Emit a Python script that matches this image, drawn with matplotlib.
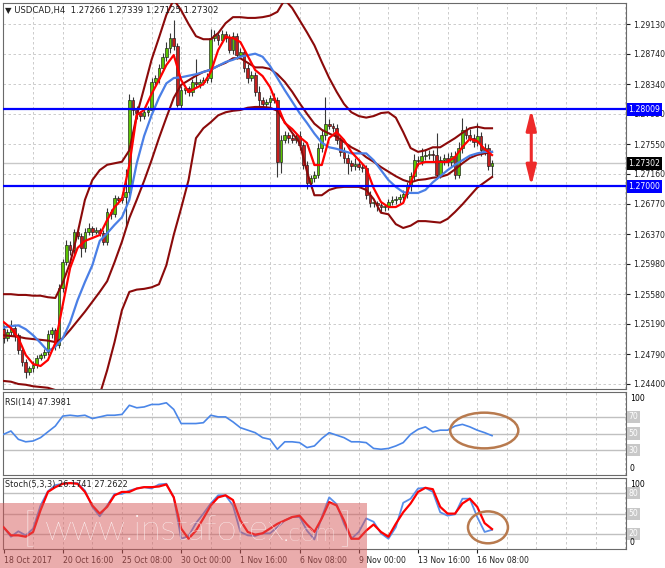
import numpy as np
import matplotlib.pyplot as plt
from matplotlib.patches import Rectangle, Ellipse
import matplotlib.transforms as mtransforms

# USDCAD H4 candles, 18 Oct - 17 Nov 2017 (closes)
first_open = 1.2512
closes = [
    1.2500, 1.2508, 1.2514, 1.2504, 1.2485, 1.2469, 1.2456, 1.2461, 1.2465, 1.2474,
    1.2478, 1.2482, 1.2506, 1.2511, 1.2491, 1.2566, 1.2600, 1.2623, 1.2616, 1.2640,
    1.2634, 1.2619, 1.2640, 1.2645, 1.2640, 1.2642, 1.2638, 1.2627, 1.2666, 1.2663,
    1.2684, 1.2682, 1.2686, 1.2692, 1.2813, 1.2800, 1.2796, 1.2792, 1.2797, 1.2800,
    1.2837, 1.2842, 1.2855, 1.2870, 1.2881, 1.2895, 1.2884, 1.2807, 1.2826, 1.2829,
    1.2824, 1.2837, 1.2834, 1.2837, 1.2839, 1.2842, 1.2895, 1.2899, 1.2892, 1.2900,
    1.2895, 1.2879, 1.2897, 1.2872, 1.2876, 1.2855, 1.2842, 1.2846, 1.2824, 1.2813,
    1.2808, 1.2810, 1.2816, 1.2813, 1.2732, 1.2761, 1.2767, 1.2763, 1.2761, 1.2766,
    1.2754, 1.2728, 1.2704, 1.2711, 1.2715, 1.2750, 1.2767, 1.2782, 1.2779, 1.2776,
    1.2761, 1.2745, 1.2737, 1.2730, 1.2726, 1.2729, 1.2725, 1.2724, 1.2688, 1.2678,
    1.2678, 1.2675, 1.2673, 1.2674, 1.2679, 1.2682, 1.2683, 1.2686, 1.2690, 1.2700,
    1.2713, 1.2734, 1.2733, 1.2740, 1.2741, 1.2742, 1.2741, 1.2715, 1.2734, 1.2737,
    1.2732, 1.2740, 1.2715, 1.2750, 1.2774, 1.2767, 1.2763, 1.2758, 1.2766, 1.2747,
    1.2750, 1.27266, 1.27302,
]
# wick lengths in pips above / below the candle body
upper_wick = [
    5, 4, 10, 4, 3, 3, 4, 3, 5, 4,
    3, 4, 5, 4, 3, 5, 4, 6, 5, 4,
    6, 4, 5, 6, 3, 4, 3, 4, 5, 4,
    4, 3, 4, 30, 8, 4, 5, 3, 4, 5,
    5, 4, 6, 5, 8, 6, 23, 4, 5, 4,
    3, 4, 30, 4, 5, 6, 12, 6, 4, 5,
    4, 5, 6, 4, 5, 4, 6, 5, 4, 8,
    4, 5, 4, 6, 4, 6, 5, 4, 5, 4,
    6, 4, 5, 4, 5, 6, 8, 35, 6, 4,
    5, 4, 6, 5, 4, 8, 6, 4, 4, 5,
    4, 3, 4, 3, 4, 5, 4, 3, 5, 6,
    5, 8, 6, 10, 8, 6, 5, 29, 6, 5,
    7, 5, 6, 8, 16, 5, 8, 6, 17, 5,
    6, 5, 4,
]
lower_wick = [
    6, 4, 5, 8, 5, 6, 8, 4, 5, 4,
    3, 4, 4, 5, 6, 4, 5, 4, 6, 5,
    4, 12, 5, 4, 5, 3, 4, 5, 4, 6,
    4, 5, 4, 40, 5, 6, 8, 6, 4, 5,
    4, 5, 6, 4, 5, 6, 5, 3, 6, 5,
    6, 5, 4, 5, 4, 3, 5, 4, 6, 4,
    5, 4, 6, 5, 4, 5, 6, 4, 5, 8,
    5, 4, 6, 4, 20, 15, 5, 6, 4, 5,
    6, 5, 8, 6, 5, 4, 5, 6, 4, 5,
    6, 5, 7, 14, 6, 5, 4, 6, 5, 6,
    5, 8, 7, 6, 5, 4, 6, 5, 4, 5,
    6, 5, 7, 5, 6, 5, 8, 6, 5, 6,
    5, 7, 6, 5, 6, 5, 4, 6, 5, 7,
    6, 5, 14,
]

# indicator lines, read every 2nd bar
bb_upper = [1.2558, 1.2558, 1.2557, 1.2557, 1.2556, 1.2556, 1.2554, 1.2553, 1.2573, 1.2599,
            1.2638, 1.2682, 1.2708, 1.2721, 1.2728, 1.2730, 1.2732, 1.2747, 1.2793, 1.2829,
            1.2866, 1.2895, 1.2925, 1.2945, 1.2931, 1.2913, 1.2897, 1.2893, 1.2893, 1.2901,
            1.2914, 1.2922, 1.2922, 1.2921, 1.2921, 1.2922, 1.2924, 1.2929, 1.2945, 1.2934,
            1.2918, 1.2902, 1.2885, 1.2863, 1.2842, 1.2824, 1.2808, 1.2797, 1.2792, 1.2790,
            1.2792, 1.2796, 1.2797, 1.2790, 1.2771, 1.2750, 1.2745, 1.2747, 1.2751, 1.2751,
            1.2757, 1.2763, 1.2770, 1.2776, 1.2778, 1.2776, 1.2776]
bb_middle = [1.2504, 1.2503, 1.2502, 1.2500, 1.2499, 1.2498, 1.2497, 1.2495, 1.2500, 1.2511,
             1.2523, 1.2535, 1.2548, 1.2561, 1.2575, 1.2600, 1.2627, 1.2658, 1.2682, 1.2707,
             1.2734, 1.2763, 1.2790, 1.2816, 1.2833, 1.2839, 1.2845, 1.2850, 1.2853, 1.2858,
             1.2862, 1.2868, 1.2868, 1.2862, 1.2856, 1.2856, 1.2854, 1.2847, 1.2837, 1.2824,
             1.2809, 1.2795, 1.2782, 1.2774, 1.2769, 1.2765, 1.2758, 1.2751, 1.2746, 1.2738,
             1.2732, 1.2725, 1.2719, 1.2713, 1.2708, 1.2705, 1.2708, 1.2709, 1.2711, 1.2712,
             1.2715, 1.2722, 1.2730, 1.2737, 1.2741, 1.2743, 1.2745]
bb_lower = [1.2444, 1.2443, 1.2440, 1.2439, 1.2437, 1.2436, 1.2435, 1.2432, 1.2422, 1.2409,
            1.2399, 1.2404, 1.2413, 1.2426, 1.2458, 1.2495, 1.2537, 1.2561, 1.2564, 1.2565,
            1.2567, 1.2571, 1.2596, 1.2636, 1.2671, 1.2708, 1.2763, 1.2776, 1.2784, 1.2793,
            1.2797, 1.2799, 1.2800, 1.2803, 1.2804, 1.2804, 1.2803, 1.2799, 1.2784, 1.2770,
            1.2757, 1.2719, 1.2688, 1.2688, 1.2695, 1.2698, 1.2699, 1.2699, 1.2699, 1.2695,
            1.2683, 1.2665, 1.2663, 1.2650, 1.2645, 1.2648, 1.2654, 1.2654, 1.2653, 1.2652,
            1.2657, 1.2666, 1.2676, 1.2687, 1.2698, 1.2705, 1.2712]
ma_slow = [1.2514, 1.2516, 1.2517, 1.2512, 1.2504, 1.2494, 1.2483, 1.2489, 1.2500, 1.2521,
           1.2550, 1.2574, 1.2596, 1.2628, 1.2638, 1.2649, 1.2659, 1.2682, 1.2730, 1.2766,
           1.2793, 1.2816, 1.2835, 1.2842, 1.2843, 1.2845, 1.2847, 1.2850, 1.2853, 1.2858,
           1.2863, 1.2866, 1.2870, 1.2872, 1.2874, 1.2870, 1.2858, 1.2842, 1.2826, 1.2811,
           1.2796, 1.2783, 1.2769, 1.2757, 1.2751, 1.2749, 1.2746, 1.2743, 1.2743, 1.2743,
           1.2734, 1.2721, 1.2708, 1.2699, 1.2692, 1.2691, 1.2691, 1.2695, 1.2705, 1.2713,
           1.2721, 1.2728, 1.2734, 1.2740, 1.2743, 1.2745, 1.2745]
ma_fast = [1.25214, 1.25135, 1.25004, 1.24781, 1.24662, 1.24636, 1.24715, 1.24938,
           1.25438, 1.25924, 1.26187, 1.26280, 1.26318, 1.26358, 1.26554, 1.26725,
           1.26830, 1.27277, 1.27934, 1.28000, 1.28210, 1.28394, 1.28591, 1.28722,
           1.28394, 1.28236, 1.28289, 1.28341, 1.28499, 1.28788, 1.28959, 1.28946,
           1.28893, 1.28709, 1.28525, 1.28446, 1.28302, 1.28065, 1.27829, 1.27750,
           1.27645, 1.27566, 1.27277, 1.27277, 1.27632, 1.27711, 1.27606, 1.27448,
           1.27343, 1.27238, 1.26975, 1.26791, 1.26725, 1.26725, 1.26778, 1.27041,
           1.27290, 1.27317, 1.27317, 1.27317, 1.27317, 1.27382, 1.27514, 1.27620,
           1.27593, 1.27487, 1.27408]
rsi = [49, 53, 43, 40, 41, 45, 52, 59, 71, 72, 71, 72, 68, 70, 72, 72, 73, 84, 81, 82,
       85, 85, 87, 79, 62, 62, 62, 63, 72, 70, 70, 64, 57, 54, 51, 45, 43, 31, 40, 40,
       39, 33, 35, 44, 51, 48, 45, 40, 40, 39, 32, 31, 32, 35, 39, 49, 55, 58, 52, 54,
       54, 59, 61, 58, 54, 51, 47.3981]
stoch_k = [30, 16, 24, 18, 28, 62, 83, 92, 94, 95, 95, 84, 60, 46, 62, 79, 79, 84, 87, 89,
           87, 93, 94, 74, 13, 17, 36, 50, 65, 77, 77, 62, 23, 18, 17, 21, 21, 30, 40, 45,
           45, 25, 12, 45, 74, 64, 35, 13, 23, 43, 38, 21, 13, 30, 66, 72, 87, 88, 82, 52,
           47, 49, 72, 72, 45, 23, 26.1741]
stoch_d = [30, 18, 18, 16, 23, 55, 82, 89, 94, 95, 94, 82, 62, 50, 60, 77, 82, 82, 87, 89,
           89, 90, 93, 74, 28, 13, 25, 43, 62, 74, 77, 70, 40, 23, 19, 21, 28, 35, 40, 45,
           47, 34, 23, 43, 67, 62, 40, 13, 13, 25, 34, 23, 16, 35, 52, 65, 82, 88, 86, 60,
           50, 50, 65, 72, 60, 36, 27.2622]

price_ticks = [1.29130, 1.28740, 1.28340, 1.27950, 1.27550, 1.27160, 1.26770,
               1.26370, 1.25980, 1.25580, 1.25190, 1.24790, 1.24400]
resistance = 1.28009
support = 1.27000
last_price = 1.27302
date_labels = ['18 Oct 2017', '20 Oct 16:00', '25 Oct 08:00', '30 Oct 00:00',
               '1 Nov 16:00', '6 Nov 08:00', '9 Nov 00:00', '13 Nov 16:00', '16 Nov 08:00']

W, H = 665, 568
FS = 5.6
GRID = '#c4c4c4'
SPINE = '#6a6a6a'


def px_axes(x0, y0, x1, y1, **kw):
    return fig.add_axes([x0 / W, 1 - y1 / H, (x1 - x0) / W, (y1 - y0) / H], **kw)


fig = plt.figure(figsize=(W / 100, H / 100), dpi=100)
fig.patch.set_facecolor('white')
ax = px_axes(3, 3, 626, 389)
ax_rsi = px_axes(3, 392, 626, 475, sharex=ax)
ax_st = px_axes(3, 478, 626, 549, sharex=ax)

n = len(closes)
x = np.arange(n)
x2 = np.arange(0, n, 2)

for a in (ax, ax_rsi, ax_st):
    for s in a.spines.values():
        s.set_color(SPINE)
        s.set_linewidth(0.8)
    for g in range(8, 169, 8):
        a.axvline(g, color=GRID, lw=0.6, ls=(0, (3, 3)), zorder=0)
    a.tick_params(axis='y', which='both', left=False, right=True, labelleft=False,
                  labelright=True, labelsize=FS, length=3, pad=2, colors='#202020')
    a.tick_params(axis='x', bottom=False, labelbottom=False)

ax.set_xlim(-0.14, 168.2)

# ---- main price panel
for p in price_ticks:
    ax.axhline(p, color=GRID, lw=0.6, ls=(0, (3, 3)), zorder=0)
ax.set_ylim(1.24334, 1.29406)
ax.set_yticks(price_ticks)
ax.set_yticklabels([f'{p:.5f}' for p in price_ticks])

ax.axhline(last_price, color='#c8c8c8', lw=1.0, zorder=1)

opens = np.array([first_open] + closes[:-1])
c = np.array(closes)
top = np.maximum(opens, c)
bot = np.minimum(opens, c)
highs = top + np.array(upper_wick) * 1e-4
lows = bot - np.array(lower_wick) * 1e-4
bull = c >= opens
ax.vlines(x, lows, highs, color='#383838', lw=0.8, zorder=3)
ax.bar(x, np.maximum(top - bot, 0.00005), bottom=bot, width=0.72,
       color=np.where(bull, '#5cc400', '#c41e1e'), edgecolor='#1a1a1a', lw=0.45, zorder=4)

for band in (bb_upper, bb_middle, bb_lower):
    ax.plot(x2, band, color='#8b0a0a', lw=1.5, zorder=5)
ax.plot(x2, ma_slow, color='#4a7fe6', lw=1.6, zorder=6)
ax.plot(x2, ma_fast, color='#ff0000', lw=1.6, zorder=7)

ax.axhline(resistance, color='#0000ff', lw=1.6, zorder=8)
ax.axhline(support, color='#0000ff', lw=1.6, zorder=8)
ax.annotate('', xy=(142.6, support), xytext=(142.6, resistance),
            arrowprops=dict(arrowstyle='<|-|>,head_width=0.3,head_length=1.2',
                            color='#ee2a2a', lw=2.2, shrinkA=0, shrinkB=0), zorder=9)

tr = mtransforms.blended_transform_factory(ax.transAxes, ax.transData)
for val, fc in ((resistance, '#0000ff'), (support, '#0000ff'), (last_price, '#000000')):
    ax.text(1.004, val, f'{val:.5f}', transform=tr, fontsize=FS, color='white',
            va='center', ha='left', clip_on=False, zorder=20,
            bbox=dict(boxstyle='square,pad=0.25', fc=fc, ec='none'))

fig.text(5 / W, 1 - 10 / H, '\u25bc USDCAD,H4  1.27266 1.27339 1.27125 1.27302',
         fontsize=FS + 0.5, color='#202020', va='center')

# ---- RSI panel
ax_rsi.set_ylim(0, 100)
ax_rsi.set_yticks([])
for lvl in (70, 50, 30):
    ax_rsi.axhline(lvl, color='#c0c0c0', lw=1.0, zorder=1)
ax_rsi.plot(x2, rsi, color='#4a86e8', lw=1.2, zorder=5)
ax_rsi.add_patch(Ellipse((129.9, 53.6), 18.4, 43, fill=False, ec='#b87a4e', lw=1.8, zorder=6))
trr = mtransforms.blended_transform_factory(ax_rsi.transAxes, ax_rsi.transData)
for lvl in (70, 50, 30):
    ax_rsi.text(1.004, lvl, str(lvl), transform=trr, fontsize=FS, color='white',
                va='center', ha='left', clip_on=False,
                bbox=dict(boxstyle='square,pad=0.2', fc='#c8c8c8', ec='none'))
ax_rsi.text(1.006, 0.97, '100', transform=ax_rsi.transAxes, fontsize=FS, va='top', ha='left')
ax_rsi.text(1.006, 0.03, '0', transform=ax_rsi.transAxes, fontsize=FS, va='bottom', ha='left')
fig.text(5 / W, 1 - 403 / H, 'RSI(14) 47.3981', fontsize=FS + 0.3, color='#202020', va='center')

# ---- Stochastic panel
ax_st.set_ylim(-2.1, 102.5)
ax_st.set_yticks([])
for lvl in (80, 50, 20):
    ax_st.axhline(lvl, color='#c0c0c0', lw=1.0, zorder=1)
ax_st.plot(x2, stoch_k, color='#5a8ee8', lw=1.3, zorder=5)
ax_st.plot(x2, stoch_d, color='#ff0000', lw=1.6, zorder=6)
ax_st.add_patch(Ellipse((130.9, 29.8), 10.8, 47, fill=False, ec='#b87a4e', lw=1.8, zorder=7))
trs = mtransforms.blended_transform_factory(ax_st.transAxes, ax_st.transData)
for lvl in (80, 50, 20):
    ax_st.text(1.004, lvl, str(lvl), transform=trs, fontsize=FS, color='white',
               va='center', ha='left', clip_on=False,
               bbox=dict(boxstyle='square,pad=0.2', fc='#c8c8c8', ec='none'))
ax_st.text(1.006, 0.97, '100', transform=ax_st.transAxes, fontsize=FS, va='top', ha='left')
ax_st.text(1.006, 0.03, '0', transform=ax_st.transAxes, fontsize=FS, va='bottom', ha='left')
fig.text(5 / W, 1 - 485 / H, 'Stoch(5,3,3) 26.1741 27.2622', fontsize=FS + 0.3,
         color='#202020', va='center')

ax_st.set_xticks(range(0, 129, 16))
ax_st.set_xticklabels(date_labels)
ax_st.tick_params(axis='x', bottom=True, labelbottom=True, labelsize=FS, length=3,
                  pad=2, colors='#202020')
for lab in ax_st.get_xticklabels():
    lab.set_ha('left')
for a in (ax, ax_rsi):
    a.tick_params(axis='x', bottom=False, labelbottom=False)

# ---- watermark
fig.add_artist(Rectangle((0, 0), 367 / W, 65 / H, transform=fig.transFigure,
                         fc='#d65a5a', ec='none', alpha=0.5, zorder=10))
wm = dict(color='white', alpha=1.0, va='center', zorder=11, family=['Lato', 'DejaVu Sans'],
          fontweight='light')
fig.text(22 / W, 1 - 531 / H, '[', fontsize=30, **wm)
fig.text(45 / W, 1 - 531 / H, 'www.instaforex', fontsize=26, **wm)
fig.text(283 / W, 1 - 534 / H, '.com', fontsize=19, **wm)
fig.text(339 / W, 1 - 531 / H, ']', fontsize=30, **wm)

fig.savefig('out.png', dpi=100)
